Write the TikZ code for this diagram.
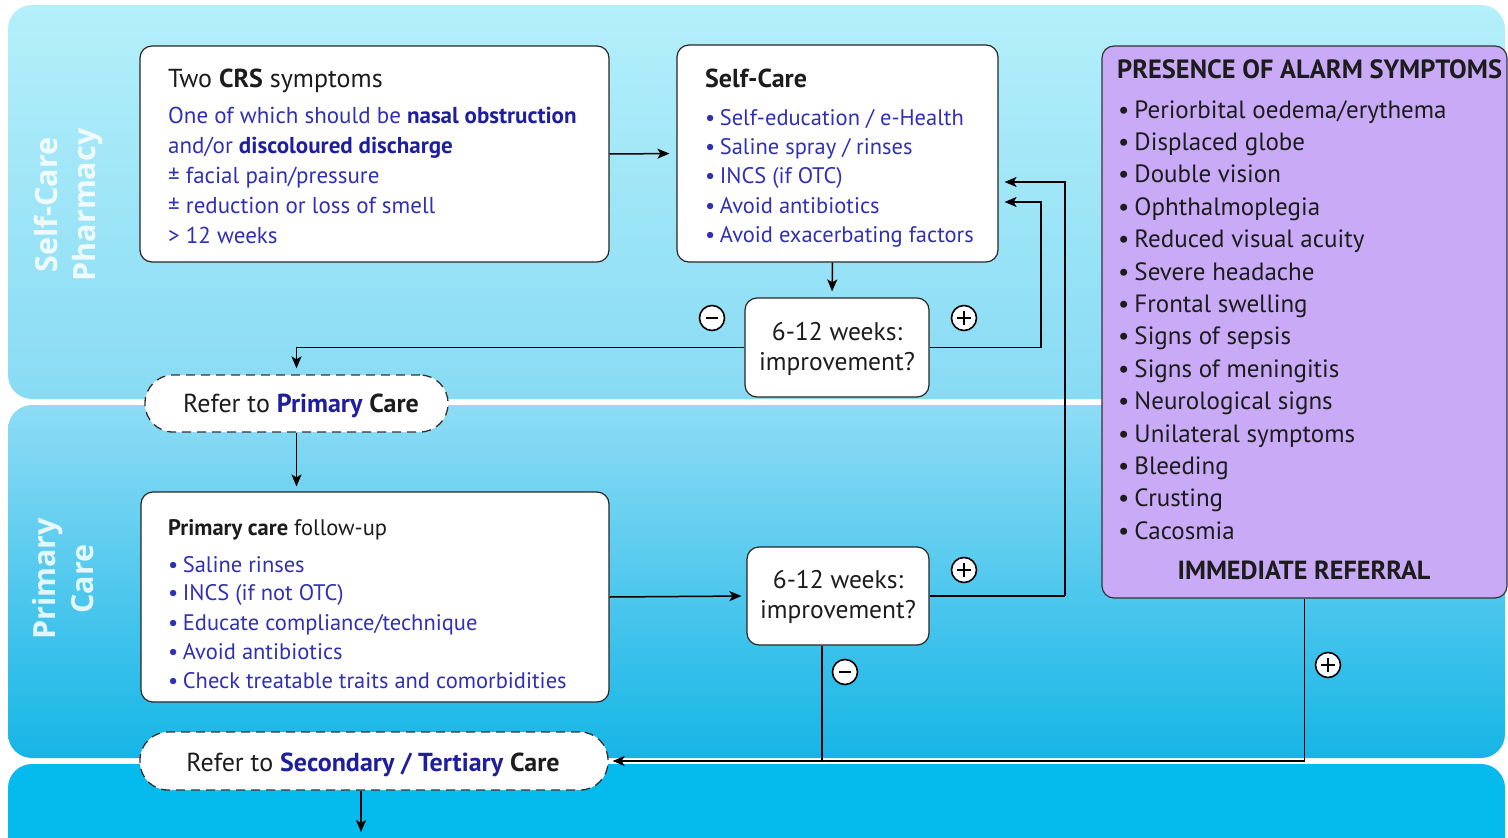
\documentclass[tikz,border=0pt]{standalone}
\usepackage{fontspec}
\setmainfont{PT Sans}
\newfontfamily\bandfont{Open Sans}
\usetikzlibrary{arrows.meta}

\definecolor{bandAtop}{RGB}{180,239,250}
\definecolor{bandAbot}{RGB}{136,219,244}
\definecolor{bandBtop}{RGB}{142,220,245}
\definecolor{bandBbot}{RGB}{22,181,230}
\definecolor{bandC}{RGB}{5,186,236}
\definecolor{alarmfill}{RGB}{200,170,246}
\definecolor{txtblue}{RGB}{48,48,180}
\definecolor{txtbluebold}{RGB}{30,30,158}
\definecolor{txtdark}{RGB}{28,28,28}

\newcommand{\hb}[1]{\textbf{\color{txtbluebold}#1}}
\newcommand{\bul}{•\hspace{0.2em}}

\begin{document}
\begin{tikzpicture}[x=1pt,y=-1pt,
  box/.style={draw=black!85, line width=1.2pt, fill=white, rounded corners=12pt, inner sep=0pt},
  pill/.style={draw=black!80, line width=1.3pt, dash pattern=on 9pt off 6pt, fill=white, rounded corners=28pt, inner sep=0pt},
  alarmbox/.style={draw=black!80, line width=1.2pt, fill=alarmfill, rounded corners=12pt, inner sep=0pt},
  ln/.style={anchor=base west, inner sep=0pt, font=\fontsize{23}{27}\selectfont, text=txtblue},
  lnsc/.style={ln, font=\fontsize{22.5}{27}\selectfont},
  lnhead/.style={ln, text=txtdark, font=\fontsize{26}{30}\selectfont},
  alm/.style={anchor=base west, inner sep=0pt, font=\fontsize{25}{29}\selectfont, text=txtdark},
  dec/.style={anchor=base, inner sep=0pt, font=\fontsize{25.5}{29}\selectfont, text=txtdark},
  band/.style={rotate=90, align=center, text=white, text opacity=0.85, inner sep=0pt,
    font=\bandfont\bfseries\fontsize{30.5}{38}\selectfont},
  arr/.style={draw=black, line width=1.5pt, -{Stealth[length=12pt,width=10pt,inset=3pt]}},
  conn/.style={draw=black, line width=1.5pt},
  sign/.style={circle, draw=black, fill=white, line width=1.6pt, minimum size=25pt, inner sep=0pt},
  minussign/.style={sign, path picture={
    \draw[line width=2.6pt] ([xshift=-6pt]path picture bounding box.center) -- ([xshift=6pt]path picture bounding box.center);}},
  plussign/.style={sign, path picture={
    \draw[line width=2.2pt] ([xshift=-7pt]path picture bounding box.center) -- ([xshift=7pt]path picture bounding box.center);
    \draw[line width=2.2pt] ([yshift=-7pt]path picture bounding box.center) -- ([yshift=7pt]path picture bounding box.center);}}
]
\useasboundingbox (0,0) rectangle (1508,838);
\clip (0,0) rectangle (1508,838);
\fill[white] (0,0) rectangle (1508,838);

% care-level bands
\shade[top color=bandAtop, bottom color=bandAbot, rounded corners=24pt] (8,5) rectangle (1505,399);
\shade[top color=bandBtop, bottom color=bandBbot, rounded corners=24pt] (8,405) rectangle (1505,758);
\fill[bandC, rounded corners=24pt] (8,764) rectangle (1505,900);

\node[band] (lblself) at (68,205) {Self-Care\\Pharmacy};
\node[band] (lblprim) at (63,579) {Primary\\Care};

% boxes
\node[box, minimum width=469pt, minimum height=216pt] (crs) at (374.5,154) {};
\node[box, minimum width=321pt, minimum height=217pt] (selfcare) at (837.5,153.5) {};
\node[box, minimum width=184pt, minimum height=99pt] (dec1) at (837,347.5) {};
\node[pill, minimum width=303pt, minimum height=57pt] (refprim) at (296.5,403.5) {};
\node[box, minimum width=468pt, minimum height=210pt] (primary) at (375,597) {};
\node[box, minimum width=182pt, minimum height=98pt] (dec2) at (838,596) {};
\node[pill, minimum width=468pt, minimum height=58pt] (refsec) at (374,761) {};
\node[alarmbox, minimum width=405pt, minimum height=552pt] (alarm) at (1304.5,322) {};

% CRS criteria
\node[lnhead] (crs1) at (168,87) {Two \textbf{CRS} symptoms};
\node[ln] (crs2) at (168,123) {One of which should be \hb{nasal obstruction}};
\node[ln] (crs3) at (168,153) {and/or \hb{discoloured discharge}};
\node[ln] (crs4) at (168,183) {± facial pain/pressure};
\node[ln] (crs5) at (168,213) {± reduction or loss of smell};
\node[ln] (crs6) at (168,243) {> 12 weeks};

% self-care measures
\node[lnhead] (sc1) at (705,87) {\textbf{Self-Care}};
\node[lnsc] (sc2) at (705,125) {\bul Self-education / e-Health};
\node[lnsc] (sc3) at (705,154) {\bul Saline spray / rinses};
\node[lnsc] (sc4) at (705,183) {\bul INCS (if OTC)};
\node[lnsc] (sc5) at (705,213) {\bul Avoid antibiotics};
\node[lnsc] (sc6) at (705,242) {\bul Avoid exacerbating factors};

% primary care follow-up
\node[lnhead, font=\fontsize{22.5}{27}\selectfont] (pc1) at (168,535) {\textbf{Primary care} follow-up};
\node[lnsc] (pc2) at (168,572) {\bul Saline rinses};
\node[lnsc] (pc3) at (168,600) {\bul INCS (if not OTC)};
\node[lnsc] (pc4) at (168,630) {\bul Educate compliance/technique};
\node[lnsc] (pc5) at (168,659) {\bul Avoid antibiotics};
\node[lnsc] (pc6) at (168,688) {\bul Check treatable traits and comorbidities};

% decisions
\node[dec] (d1a) at (837,340) {6-12 weeks:};
\node[dec] (d1b) at (837,370) {improvement?};
\node[dec] (d2a) at (838,588) {6-12 weeks:};
\node[dec] (d2b) at (838,618) {improvement?};

% referrals
\node[dec, font=\fontsize{26}{30}\selectfont] (rp) at (301,412) {Refer to \hb{Primary} \textbf{Care}};
\node[dec, font=\fontsize{26}{30}\selectfont] (rs) at (373,771) {Refer to \hb{Secondary / Tertiary} \textbf{Care}};

% alarm symptoms
\node[alm, font=\bfseries\fontsize{26.4}{30}\selectfont] (al0) at (1117,78) {PRESENCE OF ALARM SYMPTOMS};
\foreach \t [count=\i] in {Periorbital oedema/erythema, Displaced globe, Double vision,
  Ophthalmoplegia, Reduced visual acuity, Severe headache, Frontal swelling, Signs of sepsis,
  Signs of meningitis, Neurological signs, Unilateral symptoms, Bleeding, Crusting, Cacosmia}
  \node[alm] (al\i) at (1118,{118+(\i-1)*32.4}) {\bul\t};
\node[dec, font=\bfseries\fontsize{26.2}{30}\selectfont] (alend) at (1304,579) {IMMEDIATE REFERRAL};

% bend points
\coordinate (bendA) at (1041,347.5);
\coordinate (bendB) at (1065,596);
\coordinate (exitS) at (361,836);

% connectors
\draw[arr, shorten >=7pt] (crs.east) -- (selfcare.west);
\draw[arr, shorten >=6pt] ([xshift=-5pt]selfcare.south) -- ([xshift=-5pt]dec1.north);
\draw[arr, shorten >=6pt] (dec1.west) -| (refprim.north);
\draw[conn] (dec1.east) -- (bendA);
\draw[arr, shorten >=6pt] (bendA) |- ([yshift=-48.5pt]selfcare.east);
\draw[arr, shorten >=5pt] (refprim.south) -- (refprim.south |- primary.north);
\draw[arr, shorten >=5pt] (primary.east) -- (dec2.west);
\draw[conn] (dec2.east) -- (bendB);
\draw[arr, shorten >=6pt] (bendB) |- ([yshift=-28.5pt]selfcare.east);
\draw[conn] ([xshift=-16pt]dec2.south) -- ([xshift=-16pt]dec2.south |- refsec.east);
\draw[arr, shorten >=4pt] (alarm.south) |- (refsec.east);
\draw[arr, shorten >=4pt] ([xshift=-13pt]refsec.south) -- (exitS);

% outcome signs
\node[minussign] (m1) at (712,318) {};
\node[plussign] (p1) at (964,318) {};
\node[plussign] (p2) at (964,570) {};
\node[minussign] (m2) at (845,672) {};
\node[plussign] (p3) at (1328,665) {};
\end{tikzpicture}
\end{document}
